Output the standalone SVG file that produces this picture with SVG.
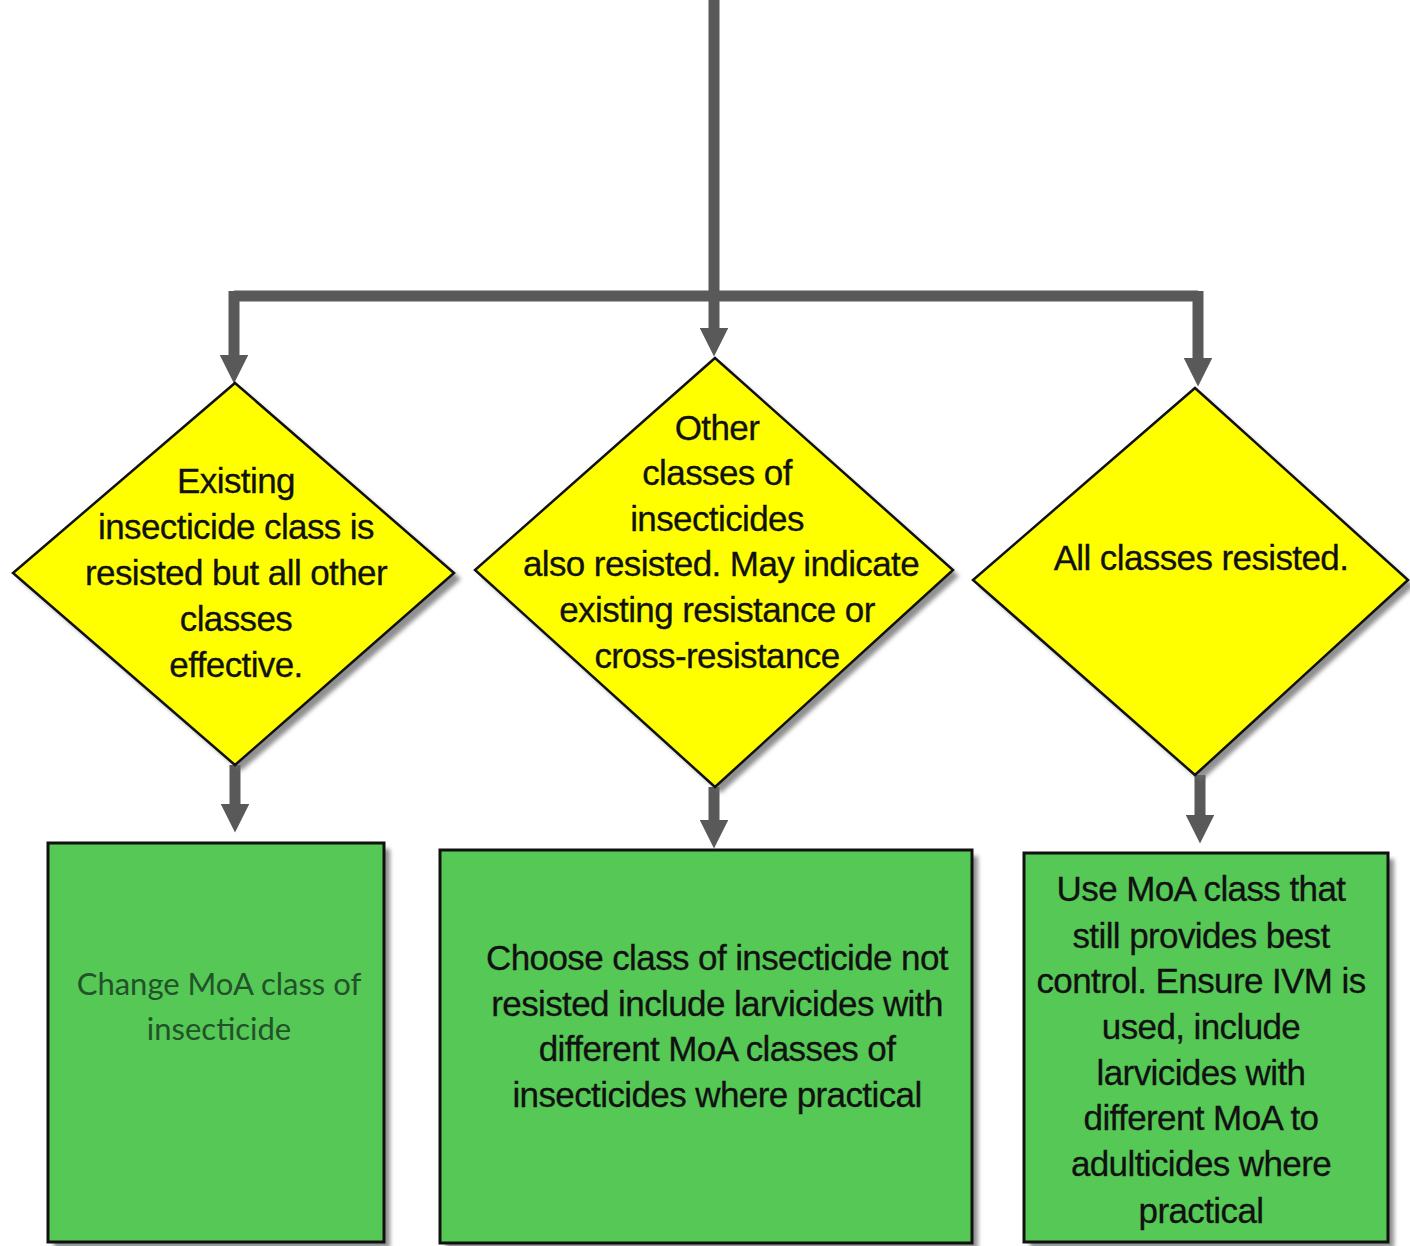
<svg xmlns="http://www.w3.org/2000/svg" width="1410" height="1246" viewBox="0 0 1410 1246">
  <style>
    .dia { fill: #FFFF00; stroke: #111; stroke-width: 2.5; }
    .box { fill: #55C855; stroke: #111; stroke-width: 3; }
    .shadow { fill: #6b6b6b; opacity: 0.75; }
    .wire { fill: none; stroke: #595959; stroke-width: 11; }
    .lbl { font-family: "Liberation Sans", Arial, sans-serif; font-size: 35px; fill: #111; stroke: #111; stroke-width: 0.3; text-anchor: middle; letter-spacing: -0.6px; }
    .soft { font-family: Lato, "Open Sans", sans-serif; font-size: 31px; fill: #22522a; text-anchor: middle; }
  </style>
  <defs>
    <filter id="blur" x="-10%" y="-10%" width="120%" height="120%">
      <feGaussianBlur stdDeviation="2"/>
    </filter>
    <!-- arrowhead base sits at the path end; tip lies 28px further on -->
    <marker id="arrow" viewBox="0 0 10 10" refX="0" refY="5" markerWidth="2.6" markerHeight="2.6" markerUnits="strokeWidth" orient="auto">
      <path d="M0,0 L10,5 L0,10 Z" fill="#595959"/>
    </marker>
  </defs>

  <rect width="1410" height="1246" fill="#fff"/>

  <!-- connectors -->
  <g id="connectors">
    <line class="wire" x1="714" y1="0" x2="714" y2="296" stroke-width="12"/>
    <path class="wire" d="M234,296 H1198"/>
    <path class="wire" d="M234,291 V355" marker-end="url(#arrow)"/>
    <path class="wire" d="M714,296 V328" marker-end="url(#arrow)"/>
    <path class="wire" d="M1198,291 V358" marker-end="url(#arrow)"/>
    <path class="wire" d="M235,765 V804" marker-end="url(#arrow)"/>
    <path class="wire" d="M714,787 V820" marker-end="url(#arrow)"/>
    <path class="wire" d="M1200,775 V815" marker-end="url(#arrow)"/>
  </g>

  <!-- decision: existing class resisted -->
  <g id="decision-existing">
    <polygon class="shadow" filter="url(#blur)" points="241,389 461,579 241,771 19,579"/>
    <polygon class="dia" points="235,383 454,573 235,765 13,573"/>
    <text class="lbl" x="236" y="493">Existing</text>
    <text class="lbl" x="236" y="539">insecticide class is</text>
    <text class="lbl" x="236" y="585">resisted but all other</text>
    <text class="lbl" x="236" y="631">classes</text>
    <text class="lbl" x="236" y="677">effective.</text>
  </g>

  <!-- decision: other classes resisted -->
  <g id="decision-other">
    <polygon class="shadow" filter="url(#blur)" points="721,364 959,576 721,793 481,576"/>
    <polygon class="dia" points="715,358 953,570 715,787 475,570"/>
    <text class="lbl" x="717" y="440">Other</text>
    <text class="lbl" x="717" y="485">classes of</text>
    <text class="lbl" x="717" y="531">insecticides</text>
    <text class="lbl" x="721" y="576">also resisted. May indicate</text>
    <text class="lbl" x="717" y="622">existing resistance or</text>
    <text class="lbl" x="717" y="668">cross-resistance</text>
  </g>

  <!-- decision: all classes resisted -->
  <g id="decision-all">
    <polygon class="shadow" filter="url(#blur)" points="1201,394 1414,586 1201,781 979,586"/>
    <polygon class="dia" points="1195,388 1408,580 1195,775 973,580"/>
    <text class="lbl" x="1201" y="570">All classes resisted.</text>
  </g>

  <!-- action: change class -->
  <g id="action-change">
    <rect class="shadow" filter="url(#blur)" x="54" y="849" width="336" height="399"/>
    <rect class="box" x="48" y="843" width="336" height="399"/>
    <text class="soft" x="219" y="995">Change MoA class of</text>
    <text class="soft" x="219" y="1040">insecticide</text>
  </g>

  <!-- action: choose class not resisted -->
  <g id="action-choose">
    <rect class="shadow" filter="url(#blur)" x="446" y="856" width="532" height="393"/>
    <rect class="box" x="440" y="850" width="532" height="393"/>
    <text class="lbl" x="717" y="970">Choose class of insecticide not</text>
    <text class="lbl" x="717" y="1016">resisted include larvicides with</text>
    <text class="lbl" x="717" y="1061">different  MoA classes of</text>
    <text class="lbl" x="717" y="1107">insecticides where practical</text>
  </g>

  <!-- action: best remaining class -->
  <g id="action-best">
    <rect class="shadow" filter="url(#blur)" x="1030" y="859" width="364" height="389"/>
    <rect class="box" x="1024" y="853" width="364" height="389"/>
    <text class="lbl" x="1201" y="901">Use MoA class that</text>
    <text class="lbl" x="1201" y="948">still provides best</text>
    <text class="lbl" x="1201" y="993">control. Ensure IVM is</text>
    <text class="lbl" x="1201" y="1039">used, include</text>
    <text class="lbl" x="1201" y="1085">larvicides with</text>
    <text class="lbl" x="1201" y="1130">different MoA to</text>
    <text class="lbl" x="1201" y="1176">adulticides where</text>
    <text class="lbl" x="1201" y="1223">practical</text>
  </g>
</svg>
